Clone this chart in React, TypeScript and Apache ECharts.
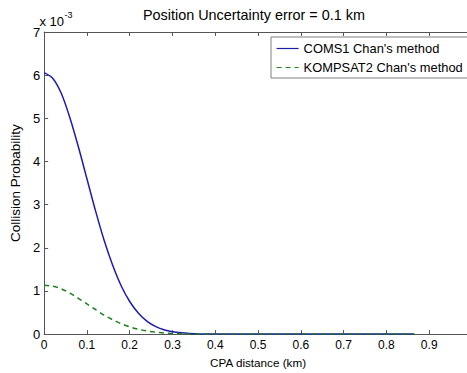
import React, { useEffect, useRef } from "react";
import * as echarts from "echarts";

const titleText = "Position Uncertainty error = 0.1 km";
const xAxisName = "CPA distance (km)";
const yAxisName = "Collision Probability";
const seriesNames = ["COMS1 Chan's method", "KOMPSAT2 Chan's method"];

// CPA distance (km)
const xValues = [
  0, 0.02, 0.04, 0.06, 0.08, 0.1, 0.12, 0.14, 0.16, 0.18, 0.2, 0.22, 0.24, 0.26, 0.28, 0.3, 0.32, 0.34,
  0.36, 0.38, 0.4, 0.5, 0.6, 0.7, 0.8, 0.865,
];
// Collision probability, in units of 1e-3
const coms1 = [
  6.06, 5.93, 5.58, 5.02, 4.34, 3.6, 2.86, 2.18, 1.6, 1.12, 0.755, 0.487, 0.302, 0.179, 0.102, 0.056,
  0.029, 0.015, 0.007, 0.003, 0.001, 0, 0, 0, 0, 0,
];
const kompsat2 = [
  1.13, 1.11, 1.05, 0.95, 0.83, 0.7, 0.57, 0.44, 0.334, 0.241, 0.168, 0.113, 0.073, 0.045, 0.027,
  0.0155, 0.0086, 0.0046, 0.0024, 0.001, 0.0005, 0, 0, 0, 0, 0,
];
const xTicks = { min: 0, max: 1, interval: 0.1 };
const yTicks = { min: 0, max: 7, interval: 1 };

const FONT = "'Liberation Sans', Arial, sans-serif";

export default function App() {
  const ref = useRef<HTMLDivElement>(null);
  useEffect(() => {
    document.body.style.margin = "0";
    if (!ref.current) return;
    const chart = echarts.init(ref.current, null, { renderer: "svg" });
    const axisColor = "#555";
    chart.setOption({
      animation: false,
      backgroundColor: "#fff",
      textStyle: { fontFamily: FONT },
      title: {
        text: titleText,
        left: 143,
        top: 8,
        padding: 0,
        textStyle: { fontFamily: FONT, fontSize: 14.4, fontWeight: "normal", color: "#000" },
      },
      grid: { left: 38.4, right: 8, top: 32, bottom: 36.3, containLabel: false },
      legend: {
        orient: "vertical",
        left: 271,
        top: 37,
        padding: [5, 10, 4, 5],
        itemWidth: 22,
        itemHeight: 12,
        itemGap: 6,
        borderColor: "#808080",
        borderWidth: 1,
        backgroundColor: "#fff",
        itemStyle: { opacity: 0 },
        lineStyle: { width: 1.2 },
        textStyle: { fontFamily: FONT, fontSize: 12.9, color: "#000", padding: [0, 0, 0, 0] },
        data: seriesNames,
      },
      xAxis: [
        {
          type: "value",
          min: xTicks.min,
          max: xTicks.max,
          interval: xTicks.interval,
          name: xAxisName,
          nameLocation: "middle",
          nameGap: 26,
          nameTextStyle: { fontFamily: FONT, fontSize: 11.7, color: "#000", verticalAlign: "middle" },
          axisLine: { show: true, onZero: false, lineStyle: { color: axisColor, width: 1 } },
          axisTick: { show: true, inside: true, length: 4, lineStyle: { color: axisColor } },
          axisLabel: { margin: 5, fontSize: 12, color: "#000", fontFamily: FONT, showMaxLabel: false },
          splitLine: { show: false },
        },
        {
          type: "value",
          position: "top",
          min: xTicks.min,
          max: xTicks.max,
          interval: xTicks.interval,
          axisLine: { show: true, onZero: false, lineStyle: { color: axisColor, width: 1 } },
          axisTick: { show: true, inside: true, length: 4, lineStyle: { color: axisColor } },
          axisLabel: { show: false },
          splitLine: { show: false },
        },
      ],
      yAxis: {
        type: "value",
        min: yTicks.min,
        max: yTicks.max,
        interval: yTicks.interval,
        name: yAxisName,
        nameLocation: "middle",
        nameGap: 20,
        nameTextStyle: { fontFamily: FONT, fontSize: 13.5, color: "#000", verticalAlign: "middle" },
        axisLine: { show: true, onZero: false, lineStyle: { color: axisColor, width: 1 } },
        axisTick: { show: true, inside: true, length: 4, lineStyle: { color: axisColor } },
        axisLabel: { margin: 4, fontSize: 13, color: "#000", fontFamily: FONT },
        splitLine: { show: false },
      },
      graphic: [
        {
          type: "text",
          left: 39.5,
          top: 15,
          style: { text: "x 10", font: `13px ${FONT}`, fill: "#000" },
        },
        {
          type: "text",
          left: 64.5,
          top: 10,
          style: { text: "-3", font: `9px ${FONT}`, fill: "#000" },
        },
      ],
      series: [
        {
          name: seriesNames[0],
          type: "line",
          data: xValues.map((x, i) => [x, coms1[i]]),
          showSymbol: false,
          symbol: "none",
          smooth: 0.3,
          lineStyle: { color: "#1c1cb0", width: 1.5, type: "solid" },
          itemStyle: { color: "#1c1cb0" },
        },
        {
          name: seriesNames[1],
          type: "line",
          data: xValues.map((x, i) => [x, kompsat2[i]]),
          showSymbol: false,
          symbol: "none",
          smooth: 0.3,
          lineStyle: { color: "#1f7f1f", width: 1.5, type: [5, 4] },
          itemStyle: { color: "#1f7f1f" },
        },
      ],
    });
    return () => chart.dispose();
  }, []);
  return (
    <div style={{ width: 467, height: 373, overflow: "hidden" }}>
      <div ref={ref} style={{ width: 480, height: 373 }} />
    </div>
  );
}
